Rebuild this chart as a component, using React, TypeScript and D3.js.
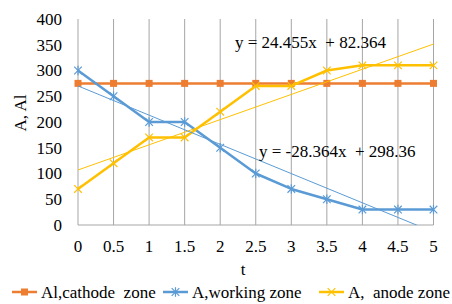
import * as d3 from 'd3';
import React from 'react';

// chart values
const tLabels = ['0', '0.5', '1', '1.5', '2', '2.5', '3', '3.5', '4', '4.5', '5'];
const cathode = [275, 275, 275, 275, 275, 275, 275, 275, 275, 275, 275];
const working = [300, 250, 200, 200, 150, 100, 70, 50, 30, 30, 30];
const anode = [70, 120, 170, 170, 220, 270, 270, 300, 310, 310, 310];
const yTicks = [0, 50, 100, 150, 200, 250, 300, 350, 400];

const seriesNames = ['Al,cathode  zone', 'A,working zone', 'A,  anode zone'];
const seriesColors = ['#ED7D31', '#5B9BD5', '#FFC000'];
const trendLabels = ['y = 24.455x  + 82.364', 'y = -28.364x  + 298.36'];

const W = 452, H = 304;
const font = 'Liberation Serif, Tinos, Times New Roman, serif';

// least squares over category index 1..n, like Excel does
function fit(vals: number[]) {
  const xs = vals.map((_, i) => i + 1);
  const mx = d3.mean(xs)!, my = d3.mean(vals)!;
  const sxy = d3.sum(xs, (x, i) => (x - mx) * (vals[i] - my));
  const sxx = d3.sum(xs, x => (x - mx) ** 2);
  const b = sxy / sxx;
  return { b, a: my - b * mx };
}

function Marker({ kind, x, y, color }: { kind: number; x: number; y: number; color: string }) {
  if (kind === 0) return <rect x={x - 3.5} y={y - 3.5} width={7} height={7} fill={color} />;
  const s = 3.8;
  return (
    <g stroke={color} strokeWidth={1.2}>
      <line x1={x - s} y1={y - s} x2={x + s} y2={y + s} />
      <line x1={x - s} y1={y + s} x2={x + s} y2={y - s} />
      {kind === 1 && <line x1={x} y1={y - s - 1} x2={x} y2={y + s + 1} />}
    </g>
  );
}

function T(props: React.SVGProps<SVGTextElement>) {
  return <text fontFamily={font} fontSize={17} fill="#000" style={{ whiteSpace: 'pre' }} {...props} />;
}

export default function App() {
  const x = d3.scaleLinear().domain([0, tLabels.length - 1]).range([78, 433.5]);
  const y = d3.scaleLinear().domain([0, 400]).range([225, 19]);
  const line = d3.line<number>().x((_, i) => x(i)).y(d => y(d));
  const all = [cathode, working, anode];

  const trends = [anode, working].map(vals => {
    const { a, b } = fit(vals);
    const n = vals.length;
    return [[x(0), y(a + b)], [x(n - 1), y(a + b * n)]];
  });

  const legendX = [12, 163, 319];

  return (
    <svg width={W} height={H} style={{ position: 'absolute', left: 0, top: 0, background: '#fff' }}>
      <defs>
        <clipPath id="plot"><rect x={78} y={19} width={356} height={206} /></clipPath>
      </defs>
      {/* vertical grid */}
      {tLabels.map((_, i) => (
        <line key={i} x1={x(i)} x2={x(i)} y1={y(400)} y2={y(0)} stroke="#a6a6a6" strokeWidth={1} />
      ))}
      <line x1={x(0)} x2={x(10)} y1={y(0)} y2={y(0)} stroke="#a6a6a6" strokeWidth={1} />

      {/* axes labels */}
      {yTicks.map(t => (
        <T key={t} x={62} y={y(t)} dy="0.35em" textAnchor="end">{t}</T>
      ))}
      {tLabels.map((t, i) => (
        <T key={t} x={x(i)} y={252} textAnchor="middle">{t}</T>
      ))}
      <T x={243} y={275} textAnchor="middle">t</T>
      <T transform="translate(26,113) rotate(-90)" textAnchor="middle">A, Al</T>

      {/* series */}
      {all.map((vals, k) => (
        <g key={k}>
          <path d={line(vals)!} fill="none" stroke={seriesColors[k]} strokeWidth={2.5} strokeLinejoin="round" />
          {vals.map((v, i) => <Marker key={i} kind={k} x={x(i)} y={y(v)} color={seriesColors[k]} />)}
        </g>
      ))}

      {/* trend lines */}
      <g clipPath="url(#plot)">
        {trends.map((p, k) => (
          <line key={k} x1={p[0][0]} y1={p[0][1]} x2={p[1][0]} y2={p[1][1]}
            stroke={seriesColors[k === 0 ? 2 : 1]} strokeWidth={1} />
        ))}
      </g>
      <T x={235} y={48}>{trendLabels[0]}</T>
      <T x={259} y={157}>{trendLabels[1]}</T>

      {/* legend */}
      {seriesNames.map((name, k) => (
        <g key={k}>
          <line x1={legendX[k]} x2={legendX[k] + 25} y1={292} y2={292} stroke={seriesColors[k]} strokeWidth={2.5} />
          <Marker kind={k} x={legendX[k] + 12.5} y={292} color={seriesColors[k]} />
          <T x={legendX[k] + 29} y={298}>{name}</T>
        </g>
      ))}
    </svg>
  );
}
